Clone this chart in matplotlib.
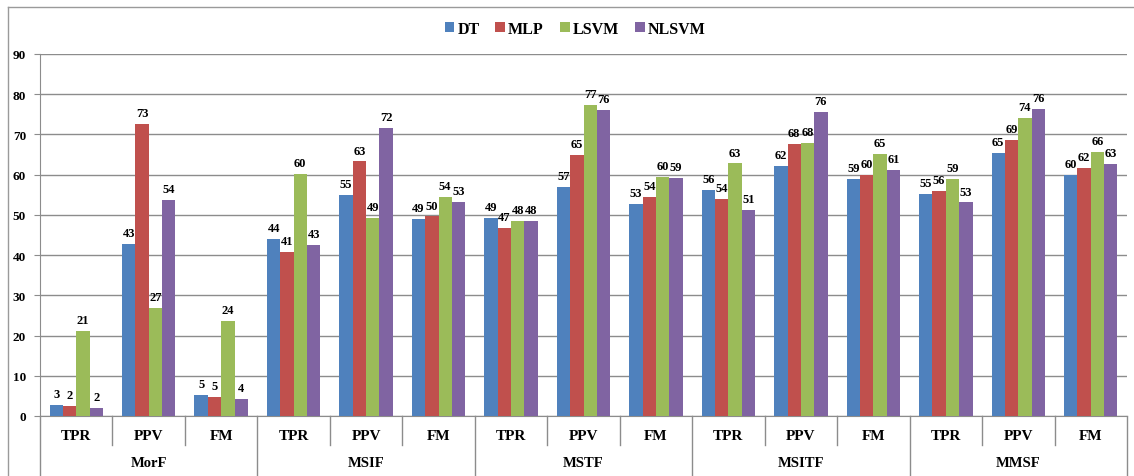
import numpy as np
import matplotlib
matplotlib.use("Agg")
import matplotlib.pyplot as plt
from matplotlib.patches import Patch
from matplotlib.lines import Line2D

plt.rcParams['font.family'] = 'Liberation Serif'
plt.rcParams['font.weight'] = 'bold'

groups = ["MorF", "MSIF", "MSTF", "MSITF", "MMSF"]
metrics = ["TPR", "PPV", "FM"]
series = ["DT", "MLP", "LSVM", "NLSVM"]
colors = ["#4F81BD", "#C0504D", "#9BBB59", "#8064A2"]

# one value per (group, metric), in the order MorF TPR, MorF PPV, MorF FM, MSIF TPR, ...
dt = [2.8, 42.7, 5.2, 44.0, 55.0, 48.9, 49.2, 56.9, 52.8, 56.2, 62.1, 59.0, 55.3, 65.3, 60.0]
mlp = [2.5, 72.6, 4.7, 40.8, 63.3, 49.6, 46.8, 64.8, 54.5, 54.0, 67.7, 60.0, 55.9, 68.7, 61.7]
lsvm = [21.2, 26.8, 23.6, 60.1, 49.3, 54.4, 48.4, 77.3, 59.5, 62.8, 67.9, 65.2, 59.0, 74.1, 65.7]
nlsvm = [2.0, 53.7, 4.2, 42.6, 71.6, 53.3, 48.4, 76.1, 59.2, 51.3, 75.6, 61.1, 53.1, 76.4, 62.6]
values = [dt, mlp, lsvm, nlsvm]

W, H = 1134, 477
fig = plt.figure(figsize=(W / 100, H / 100), dpi=100)
ax = fig.add_axes([40 / W, 1 - 417 / H, (1127 - 40) / W, (417 - 55) / H])

n = len(groups) * len(metrics)
x = np.arange(n)
bw = 0.184
for k, (vals, c) in enumerate(zip(values, colors)):
    pos = x + (k - 1.5) * bw
    bars = ax.bar(pos, vals, width=bw, color=c, zorder=3)
    for b, v in zip(bars, vals):
        ax.annotate("%.0f" % v, (b.get_x() + b.get_width() / 2, v),
                    xytext=(0, 3.5), textcoords="offset points",
                    ha="center", va="bottom", fontsize=9, fontweight="bold", zorder=5)

ax.set_xlim(-0.5, n - 0.5)
ax.set_ylim(0, 90)
ax.set_yticks(np.arange(0, 91, 10))
ax.tick_params(axis="y", length=4, color="#8c8c8c", labelsize=9.5, pad=6)
ax.tick_params(axis="x", length=0, labelbottom=False)
ax.grid(axis="y", color="#8c8c8c", linewidth=1, zorder=0)
for s in ["top", "right"]:
    ax.spines[s].set_visible(False)
ax.spines["left"].set_color("#8c8c8c")
ax.spines["bottom"].set_color("#8c8c8c")
for t in ax.get_yticklabels():
    t.set_fontweight("bold")

# category axis: metric labels, group labels and separators
tr = ax.get_xaxis_transform()
y_metric = -(437 - 417) / (417 - 55)
y_group = -(464 - 417) / (417 - 55)
y_short = -(446 - 417) / (417 - 55)
y_long = -(477 - 417) / (417 - 55)
for i in range(n):
    ax.text(i, y_metric, metrics[i % 3], transform=tr, ha="center", va="center",
            fontsize=11, fontweight="bold")
for g, name in enumerate(groups):
    ax.text(g * 3 + 1, y_group, name, transform=tr, ha="center", va="center",
            fontsize=10.5, fontweight="bold")
for i in range(n + 1):
    bottom = y_long if i % 3 == 0 else y_short
    ax.add_line(Line2D([i - 0.5, i - 0.5], [0, bottom], transform=tr, color="#8c8c8c",
                       linewidth=1, clip_on=False))

# outer chart frame
fig.add_artist(Line2D([8 / W, 1], [1 - 8 / H, 1 - 8 / H], color="#9a9a9a", linewidth=1))
fig.add_artist(Line2D([8 / W, 8 / W], [0, 1 - 8 / H], color="#9a9a9a", linewidth=1))

handles = [Patch(facecolor=c) for c in colors]
fig.legend(handles, series, loc="center", bbox_to_anchor=(575 / W, 1 - 30 / H), ncol=4,
           frameon=False, handlelength=0.6, handleheight=0.6, handletextpad=0.2,
           columnspacing=1.0, prop={"size": 11.5, "weight": "bold"})

fig.savefig("out.png", dpi=100)
